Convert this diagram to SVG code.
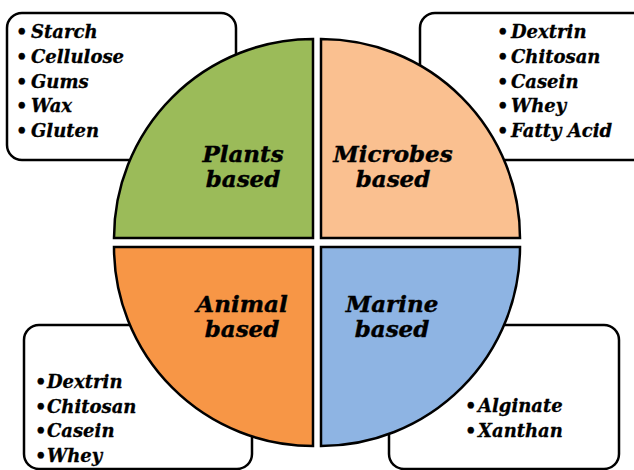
<svg xmlns="http://www.w3.org/2000/svg" width="634" height="470" viewBox="0 0 634 470">
<style>
.box{fill:#fff;stroke:#000;stroke-width:2.5}
.q{stroke:#000;stroke-width:2.5;stroke-linejoin:miter}
.li{font-family:"DejaVu Serif","Liberation Serif",serif;font-weight:bold;font-style:italic;font-size:18px;fill:#000;stroke:#000;stroke-width:0.3}
.lb{font-family:"DejaVu Serif","Liberation Serif",serif;font-weight:bold;font-style:italic;font-size:23px;fill:#000;stroke:#000;stroke-width:0.4;text-anchor:middle}
</style>
<rect width="634" height="470" fill="#fff"/>
<g id="box-plants">
<rect class="box" x="7" y="13" width="229" height="147" rx="15"/>
<text class="li" y="38"><tspan x="16">•</tspan><tspan x="31">Starch</tspan></text>
<text class="li" y="63"><tspan x="16">•</tspan><tspan x="31">Cellulose</tspan></text>
<text class="li" y="88"><tspan x="16">•</tspan><tspan x="31">Gums</tspan></text>
<text class="li" y="112"><tspan x="16">•</tspan><tspan x="31">Wax</tspan></text>
<text class="li" y="137"><tspan x="16">•</tspan><tspan x="31">Gluten</tspan></text>
</g>
<g id="box-microbes">
<rect class="box" x="420" y="13" width="230" height="147" rx="15"/>
<text class="li" y="38"><tspan x="497">•</tspan><tspan x="511">Dextrin</tspan></text>
<text class="li" y="63"><tspan x="497">•</tspan><tspan x="511">Chitosan</tspan></text>
<text class="li" y="88"><tspan x="497">•</tspan><tspan x="511">Casein</tspan></text>
<text class="li" y="112"><tspan x="497">•</tspan><tspan x="511">Whey</tspan></text>
<text class="li" y="137"><tspan x="497">•</tspan><tspan x="511">Fatty Acid</tspan></text>
</g>
<g id="box-animal">
<rect class="box" x="24" y="325" width="228" height="144" rx="15"/>
<text class="li" y="388"><tspan x="35">•</tspan><tspan x="47">Dextrin</tspan></text>
<text class="li" y="413"><tspan x="35">•</tspan><tspan x="47">Chitosan</tspan></text>
<text class="li" y="437"><tspan x="35">•</tspan><tspan x="47">Casein</tspan></text>
<text class="li" y="462"><tspan x="35">•</tspan><tspan x="47">Whey</tspan></text>
</g>
<g id="box-marine">
<rect class="box" x="389" y="325" width="230" height="144" rx="15"/>
<text class="li" y="412"><tspan x="465">•</tspan><tspan x="478">Alginate</tspan></text>
<text class="li" y="437"><tspan x="465">•</tspan><tspan x="478">Xanthan</tspan></text>
</g>
<g id="plants">
<path class="q" fill="#9BBB59" d="M313,238 L114,238 A199,199 0 0 1 313,39 Z"/>
<text class="lb" x="243" y="162">Plants</text>
<text class="lb" x="243" y="187">based</text>
</g>
<g id="microbes">
<path class="q" fill="#FAC090" d="M321,238 L321,39 A199,199 0 0 1 520,238 Z"/>
<text class="lb" x="393" y="162">Microbes</text>
<text class="lb" x="393" y="187">based</text>
</g>
<g id="animal">
<path class="q" fill="#F79646" d="M313,247 L313,446 A199,199 0 0 1 114,247 Z"/>
<text class="lb" x="242" y="312">Animal</text>
<text class="lb" x="242" y="337">based</text>
</g>
<g id="marine">
<path class="q" fill="#8EB4E3" d="M321,247 L520,247 A199,199 0 0 1 321,446 Z"/>
<text class="lb" x="392" y="312">Marine</text>
<text class="lb" x="392" y="337">based</text>
</g>
<g id="connectors"/>
</svg>
